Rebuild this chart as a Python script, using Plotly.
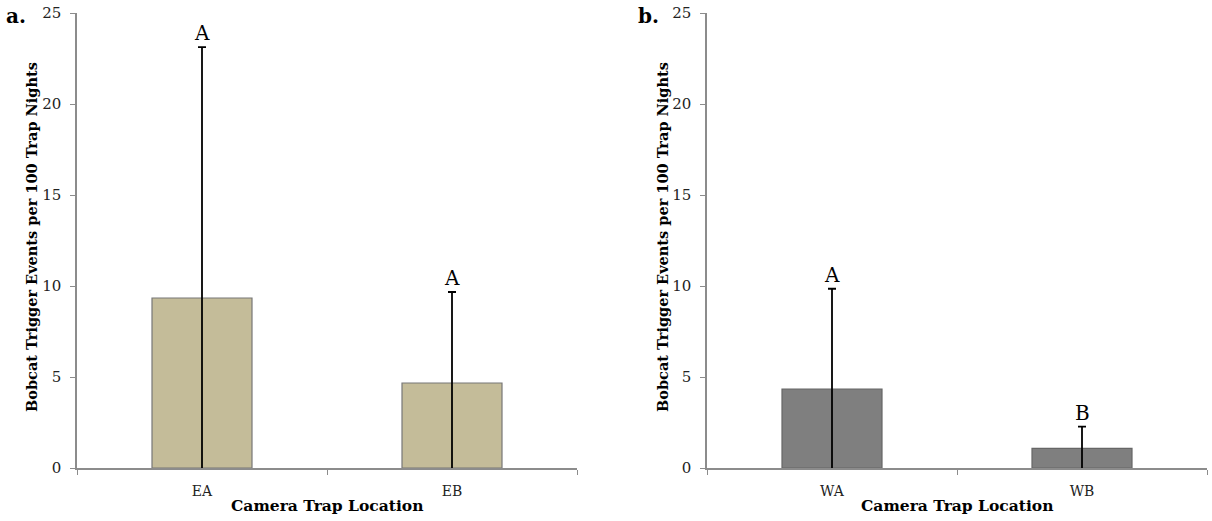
import plotly.graph_objects as go

east_sites = ["EA", "EB"]
east_means = [9.34, 4.67]
east_err = [13.79, 5.0]
east_letters = ["A", "A"]

west_sites = ["WA", "WB"]
west_means = [4.34, 1.08]
west_err = [5.51, 1.19]
west_letters = ["A", "B"]

y_ticks = [0, 5, 10, 15, 20, 25]
y_title = "Bobcat Trigger Events per 100 Trap Nights"
x_title = "Camera Trap Location"
panel_labels = ["a.", "b."]

FONT = "DejaVu Serif"
W, H = 1212, 521

def px_x(p):
    return p / W

def px_y(p):
    return 1 - p / H

fig = go.Figure()

fig.add_trace(go.Bar(
    x=east_sites, y=east_means, width=0.4,
    marker=dict(color="#C4BC99", line=dict(color="#777777", width=1.2)),
    error_y=dict(type="data", array=east_err, symmetric=True, color="black", thickness=1.8, width=4),
    xaxis="x", yaxis="y", showlegend=False,
))
fig.add_trace(go.Bar(
    x=west_sites, y=west_means, width=0.4,
    marker=dict(color="#7F7F7F", line=dict(color="#666666", width=1.2)),
    error_y=dict(type="data", array=west_err, symmetric=True, color="black", thickness=1.8, width=4),
    xaxis="x2", yaxis="y2", showlegend=False,
))

ann = []
for xs, ms, es, ls, xr, yr in [(east_sites, east_means, east_err, east_letters, "x", "y"),
                               (west_sites, west_means, west_err, west_letters, "x2", "y2")]:
    for s, m, e, l in zip(xs, ms, es, ls):
        ann.append(dict(x=s, y=m + e, xref=xr, yref=yr, text=l, showarrow=False,
                        yanchor="bottom", yshift=0,
                        font=dict(family=FONT, size=20, color="black")))

# axis titles and panel labels
for cx, lab_x, lab in [(32, 16, panel_labels[0]), (663, 648, panel_labels[1])]:
    ann.append(dict(x=px_x(cx), y=px_y(237), xref="paper", yref="paper", text="<b>" + y_title + "</b>",
                    textangle=-90, showarrow=False, xanchor="center", yanchor="middle",
                    font=dict(family=FONT, size=14.5, color="black")))
    ann.append(dict(x=px_x(lab_x), y=px_y(16), xref="paper", yref="paper", text="<b>" + lab + "</b>",
                    showarrow=False, xanchor="center", yanchor="middle",
                    font=dict(family=FONT, size=20, color="black")))
for cx in [327, 957]:
    ann.append(dict(x=px_x(cx), y=px_y(505), xref="paper", yref="paper", text="<b>" + x_title + "</b>",
                    showarrow=False, xanchor="center", yanchor="middle",
                    font=dict(family=FONT, size=15.5, color="black")))

xcommon = dict(showline=True, linecolor="#8c8c8c", linewidth=1.5, ticks="outside", tickson="boundaries",
               ticklen=5, tickcolor="#8c8c8c", showgrid=False, zeroline=False, automargin=False,
               ticklabelstandoff=9,
               tickfont=dict(family=FONT, size=14, color="#222"), range=[-0.5, 1.5], fixedrange=True)
ycommon = dict(showline=True, linecolor="#8c8c8c", linewidth=1.5, ticks="outside", ticklen=5,
               tickcolor="#8c8c8c", showgrid=False, zeroline=False, range=[0, 25], automargin=False,
               tickvals=y_ticks, ticklabelstandoff=6,
               tickfont=dict(family=FONT, size=15, color="#222"), fixedrange=True)

fig.update_layout(
    width=W, height=H, autosize=False,
    margin=dict(l=0, r=0, t=0, b=0, pad=0, autoexpand=False),
    paper_bgcolor="white", plot_bgcolor="white",
    xaxis=dict(domain=[px_x(77), px_x(577)], anchor="y", **xcommon),
    xaxis2=dict(domain=[px_x(707), px_x(1207)], anchor="y2", **xcommon),
    yaxis=dict(domain=[px_y(468), px_y(13)], anchor="x", **ycommon),
    yaxis2=dict(domain=[px_y(468), px_y(13)], anchor="x2", **ycommon),
    annotations=ann,
    bargap=0.6,
)

fig.write_html("out.html")
